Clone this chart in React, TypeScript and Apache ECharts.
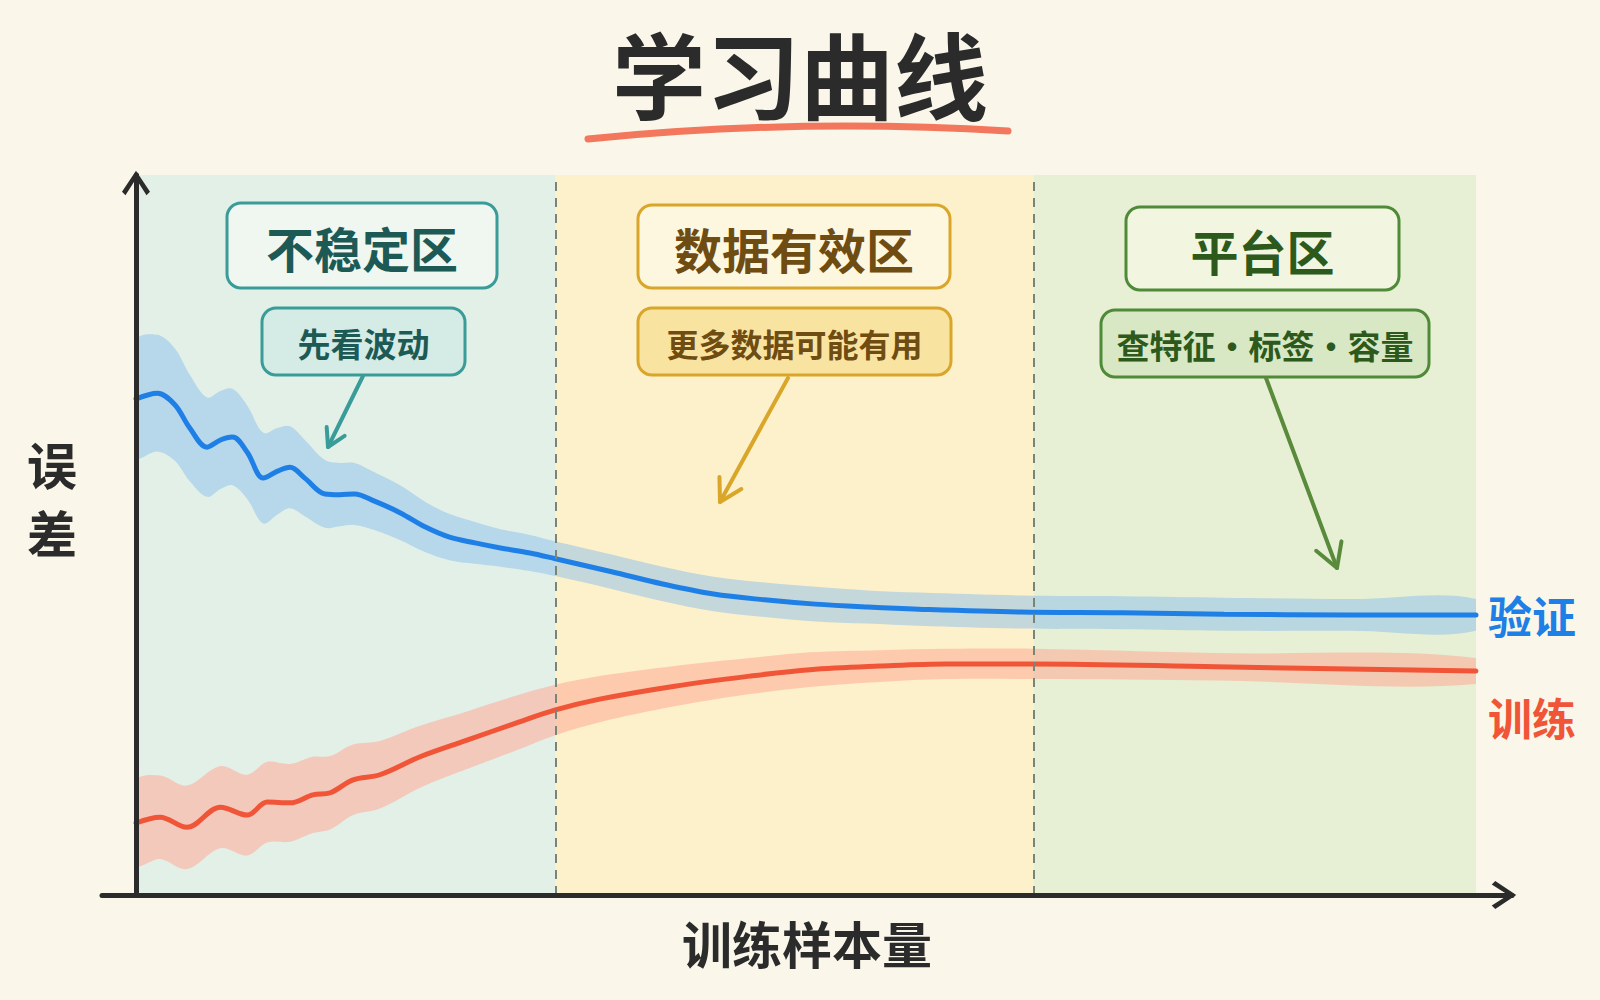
import React, { useEffect, useRef } from 'react';
import * as echarts from 'echarts';

const FONT = "'Noto Sans CJK SC', 'Noto Sans', sans-serif";

// ---- Data (x: training sample size 0-100, y: error 0-100) ----
const valX = [0, 1.6, 2.9, 4.0, 5.3, 6.3, 7.2, 8.3, 9.5, 10.6, 11.5, 12.6, 14.1, 15.2, 16.3, 17.8, 19.7, 21.6, 23.4, 25.3, 27.2, 29.4, 31.3, 35.5, 39.3, 43.1, 46.9, 50.7, 54.6, 58.4, 66.0, 73.6, 81.2, 90.6, 100];
const valErr = [68.9, 69.7, 68.1, 64.9, 62.2, 63.2, 63.6, 61.5, 57.9, 58.9, 59.4, 57.9, 55.7, 55.6, 55.7, 54.7, 53.1, 51.1, 49.7, 48.9, 48.2, 47.5, 46.7, 44.9, 43.2, 41.8, 41.0, 40.4, 40.0, 39.7, 39.3, 39.2, 39.0, 38.9, 38.9];
const valSpread = [8.1, 8.1, 7.8, 7.4, 6.9, 6.8, 6.7, 6.5, 6.3, 6.0, 5.7, 5.3, 4.7, 4.4, 4.3, 4.0, 3.8, 3.5, 3.2, 2.9, 2.6, 2.5, 2.4, 2.4, 2.4, 2.4, 2.4, 2.4, 2.3, 2.3, 2.3, 2.3, 2.3, 2.2, 2.2];

const trainX = [0, 1.8, 3.8, 6.3, 8.3, 9.8, 11.5, 13.2, 14.5, 16.2, 18.2, 21.2, 24.7, 28.4, 31.3, 34.6, 40.2, 45.8, 50.3, 55.5, 60.5, 67.0, 80.6, 100];
const trainErr = [10.0, 10.8, 9.4, 12.2, 11.1, 12.9, 12.8, 13.9, 14.2, 16.0, 16.7, 19.2, 21.5, 23.9, 25.7, 27.2, 29.0, 30.4, 31.3, 31.8, 32.1, 32.1, 31.7, 31.1];
const trainSpread = [5.8, 5.8, 5.8, 5.7, 5.6, 5.6, 5.4, 5.3, 5.1, 4.9, 4.7, 4.3, 4.0, 3.8, 3.5, 3.2, 2.8, 2.5, 2.4, 2.2, 2.1, 2.1, 1.9, 1.8];

const zoneBounds = [0, 31.3, 67.0, 100];
const zoneColors = ['#e2f0e8', '#fdf1cb', '#e7f0d4'];
const zoneTitles = ['不稳定区', '数据有效区', '平台区'];
const zoneNotes = ['先看波动', '更多数据可能有用', '查特征·标签·容量'];

const TITLE = '学习曲线';
const X_NAME = '训练样本量';
const Y_NAME = '误差';
const VAL_NAME = '验证';
const TRAIN_NAME = '训练';

const BLUE = '#1e7fe6';
const RED = '#f05538';
const INK = '#2b2b2b';

const CHEVRON = 'path://M14,0 L28,21 L24.5,24.5 L14,8 L3.5,24.5 L0,21 Z';

function box(x: number, y: number, w: number, h: number, fill: string, stroke: string, text: string, fontSize: number, color: string) {
  return {
    type: 'group',
    z: 100,
    children: [
      { type: 'rect', z: 100, shape: { x, y, width: w, height: h, r: 14 }, style: { fill, stroke, lineWidth: 3 } },
      {
        type: 'text', z: 101, x: x + w / 2, y: y + h / 2 + 1,
        style: {
          text, fill: color, fontSize, fontWeight: 'bold', fontFamily: FONT,
          align: 'center', verticalAlign: 'middle', textAlign: 'center', textVerticalAlign: 'middle',
        },
      },
    ],
  };
}

function arrow(x1: number, y1: number, x2: number, y2: number, color: string, head: number) {
  const a = Math.atan2(y2 - y1, x2 - x1);
  const s = Math.PI / 6;
  const p1 = [x2 - head * Math.cos(a - s), y2 - head * Math.sin(a - s)];
  const p2 = [x2 - head * Math.cos(a + s), y2 - head * Math.sin(a + s)];
  return [
    { type: 'line', z: 100, shape: { x1, y1, x2, y2 }, style: { stroke: color, lineWidth: 4, lineCap: 'round' } },
    { type: 'polyline', z: 100, shape: { points: [p1, [x2, y2], p2] }, style: { stroke: color, lineWidth: 4, lineCap: 'round', lineJoin: 'round', fill: null } },
  ];
}

// band series drawn as one smoothed polygon through the axis scales, clipped to the data's x range
function bandSeries(xs: number[], mid: number[], spread: number[], fill: string) {
  const data = xs.map((x, i) => [x, mid[i] - spread[i], mid[i] + spread[i]]);
  return {
    type: 'custom',
    coordinateSystem: 'cartesian2d',
    silent: true,
    clip: true,
    z: 2,
    encode: { x: 0, y: [1, 2] },
    data,
    renderItem: (params: any, api: any) => {
      if (params.dataIndex !== 0) return null;
      const upper = data.map((d) => api.coord([d[0], d[2]]));
      const lower = data.map((d) => api.coord([d[0], d[1]])).reverse();
      const tl = api.coord([xs[0], 100]);
      const br = api.coord([xs[xs.length - 1], 0]);
      return {
        type: 'polygon',
        shape: { points: upper.concat(lower), smooth: 0.35 },
        style: { fill, stroke: null },
        clipPath: { type: 'rect', shape: { x: tl[0], y: tl[1], width: br[0] - tl[0], height: br[1] - tl[1] } },
      };
    },
  };
}

export default function App() {
  const ref = useRef<HTMLDivElement>(null);

  useEffect(() => {
    if (!ref.current) return;
    const chart = echarts.init(ref.current, null, { renderer: 'svg' });

    const valLine = valX.map((x, i) => [x, valErr[i]]);
    const trLine = trainX.map((x, i) => [x, trainErr[i]]);

    const zones = zoneColors.map((c, i) => [
      { xAxis: zoneBounds[i], yAxis: 0, itemStyle: { color: c } },
      { xAxis: zoneBounds[i + 1], yAxis: 100 },
    ]);

    const yChars = Y_NAME.split('');
    const graphics: any[] = [
      {
        type: 'bezierCurve', z: 100,
        shape: { x1: 588, y1: 139, x2: 1008, y2: 131, cpx1: 796, cpy1: 118 },
        style: { stroke: '#f2775d', lineWidth: 7, lineCap: 'round', fill: null },
      },
      ...yChars.map((ch, i) => ({
        type: 'text', z: 100, x: 52, y: 463 + i * 68,
        style: {
          text: ch, fill: INK, fontSize: 50, fontWeight: 'bold', fontFamily: FONT,
          align: 'center', verticalAlign: 'middle', textAlign: 'center', textVerticalAlign: 'middle',
        },
      })),
      box(227, 203, 270, 85, '#eff7f0', '#3a9c98', zoneTitles[0], 48, '#1d5a55'),
      box(262, 308, 203, 67, '#d4ece5', '#3a9c98', zoneNotes[0], 33, '#1d5a55'),
      ...arrow(363, 376, 328, 447, '#3a9c98', 20),
      box(638, 205, 312, 83, '#fdf7e0', '#d9a62a', zoneTitles[1], 48, '#6e4c12'),
      box(638, 308, 313, 67, '#f9e3a1', '#d9a62a', zoneNotes[1], 32, '#6e4c12'),
      ...arrow(788, 378, 720, 502, '#d9a62a', 25),
      box(1126, 207, 273, 83, '#f2f6e1', '#4f8a38', zoneTitles[2], 48, '#2d5a1c'),
      box(1101, 310, 328, 67, '#d9e8c4', '#4f8a38', zoneNotes[2], 33, '#2d5a1c'),
      ...arrow(1266, 378, 1337, 568, '#5a8a3c', 27),
    ];

    const option: any = {
      animation: false,
      backgroundColor: '#faf7ea',
      title: {
        text: TITLE,
        left: 'center',
        top: 20,
        textStyle: { fontSize: 94, fontWeight: 'bold', color: INK, fontFamily: FONT },
      },
      grid: { left: 102, right: 88, top: 175, bottom: 105 },
      xAxis: {
        type: 'value',
        min: -2.537,
        max: 102.687,
        z: 10,
        name: X_NAME,
        nameLocation: 'middle',
        nameGap: 22,
        nameTextStyle: { fontSize: 50, fontWeight: 'bold', color: INK, fontFamily: FONT },
        axisLine: {
          show: true,
          onZero: true,
          symbol: ['none', CHEVRON],
          symbolSize: [28, 30],
          symbolOffset: [0, -8],
          lineStyle: { color: INK, width: 5, cap: 'round' },
        },
        axisTick: { show: false },
        axisLabel: { show: false },
        splitLine: { show: false },
      },
      yAxis: {
        type: 'value',
        min: 0,
        max: 100,
        z: 10,
        axisLine: {
          show: true,
          onZero: true,
          symbol: ['none', CHEVRON],
          symbolSize: [28, 26],
          symbolOffset: [0, -8],
          lineStyle: { color: INK, width: 5, cap: 'round' },
        },
        axisTick: { show: false },
        axisLabel: { show: false },
        splitLine: { show: false },
      },
      graphic: graphics,
      series: [
        {
          type: 'line', name: 'zones', data: valLine, silent: true, z: 0,
          showSymbol: false, lineStyle: { opacity: 0 },
          markArea: { silent: true, data: zones },
        },
        bandSeries(valX, valErr, valSpread, 'rgba(140,190,235,0.5)'),
        bandSeries(trainX, trainErr, trainSpread, 'rgba(255,170,150,0.55)'),
        {
          type: 'line', name: VAL_NAME, data: valLine, smooth: 0.35, silent: true, z: 4,
          showSymbol: false, lineStyle: { color: BLUE, width: 5, cap: 'round' },
          endLabel: {
            show: true, formatter: VAL_NAME, color: BLUE, fontSize: 44, fontWeight: 'bold', fontFamily: FONT, distance: 12,
          },
          markLine: {
            silent: true, symbol: 'none',
            label: { show: false },
            lineStyle: { color: '#7a857a', width: 2, type: [9, 7] },
            data: [{ xAxis: zoneBounds[1] }, { xAxis: zoneBounds[2] }],
          },
        },
        {
          type: 'line', name: TRAIN_NAME, data: trLine, smooth: 0.35, silent: true, z: 4,
          showSymbol: false, lineStyle: { color: RED, width: 5, cap: 'round' },
          endLabel: {
            show: true, formatter: TRAIN_NAME, color: RED, fontSize: 44, fontWeight: 'bold', fontFamily: FONT, distance: 12,
            offset: [0, 46],
          },
        },
      ],
    };

    chart.setOption(option);
    return () => chart.dispose();
  }, []);

  return <div ref={ref} style={{ position: 'fixed', left: 0, top: 0, width: 1600, height: 1000 }} />;
}
